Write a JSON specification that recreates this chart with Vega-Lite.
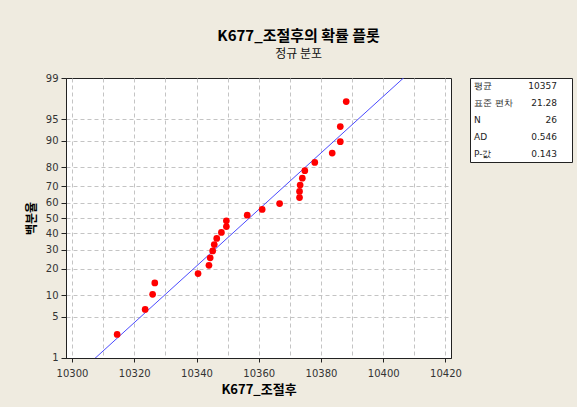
{
  "$schema": "https://vega.github.io/schema/vega-lite/v6.json",
  "background": "#EFEBE0",
  "padding": {"left": 24, "top": 28, "right": 4, "bottom": 10},
  "title": {
    "text": "K677_조절후의 확률 플롯",
    "subtitle": "정규 분포",
    "anchor": "middle",
    "font": "Noto Sans CJK KR",
    "fontSize": 15,
    "fontWeight": "bold",
    "color": "#000000",
    "subtitleFont": "Noto Sans CJK KR",
    "subtitleFontSize": 12,
    "subtitleColor": "#111111",
    "subtitlePadding": 5,
    "offset": 13
  },
  "spacing": 19,
  "bounds": "flush",
  "datasets": {
    "points": [
      {"v": 10314.5, "z": -1.934},
      {"v": 10323.5, "z": -1.519},
      {"v": 10325.9, "z": -1.268},
      {"v": 10326.6, "z": -1.079},
      {"v": 10340.5, "z": -0.923},
      {"v": 10344.0, "z": -0.786},
      {"v": 10344.4, "z": -0.662},
      {"v": 10345.2, "z": -0.548},
      {"v": 10345.7, "z": -0.441},
      {"v": 10346.5, "z": -0.339},
      {"v": 10348.0, "z": -0.240},
      {"v": 10349.6, "z": -0.143},
      {"v": 10349.6, "z": -0.0475},
      {"v": 10356.3, "z": 0.0475},
      {"v": 10361.1, "z": 0.143},
      {"v": 10366.7, "z": 0.240},
      {"v": 10373.1, "z": 0.339},
      {"v": 10373.1, "z": 0.441},
      {"v": 10373.3, "z": 0.548},
      {"v": 10374.0, "z": 0.662},
      {"v": 10374.8, "z": 0.786},
      {"v": 10378.0, "z": 0.923},
      {"v": 10383.6, "z": 1.079},
      {"v": 10386.2, "z": 1.268},
      {"v": 10386.2, "z": 1.519},
      {"v": 10388.1, "z": 1.934}
    ],
    "fit": [
      {"v": 10298, "z": -2.773},
      {"v": 10422, "z": 3.055}
    ],
    "stats": [
      {"row": 1, "label": "평균", "value": "10357"},
      {"row": 2, "label": "표준 편차", "value": "21.28"},
      {"row": 3, "label": "N", "value": "26"},
      {"row": 4, "label": "AD", "value": "0.546"},
      {"row": 5, "label": "P-값", "value": "0.143"}
    ]
  },
  "hconcat": [
    {
      "width": 385,
      "height": 280,
      "view": {"fill": "white", "stroke": "#222222", "strokeWidth": 1},
      "encoding": {
        "x": {
          "field": "v",
          "type": "quantitative",
          "scale": {"domain": [10298.07, 10421.77], "nice": false, "zero": false},
          "axis": {
            "title": "K677_조절후",
            "titleFont": "Noto Sans CJK KR",
            "titleFontSize": 13,
            "titleFontWeight": "bold",
            "titleColor": "#000000",
            "titlePadding": 5,
            "values": [10300, 10310, 10320, 10330, 10340, 10350, 10360, 10370, 10380, 10390, 10400, 10410, 10420],
            "format": "d",
            "labelExpr": "datum.value % 20 === 0 ? datum.label : ''",
            "labelFlush": false,
            "labelOverlap": false,
            "labelFont": "DejaVu Sans",
            "labelFontSize": 10,
            "labelColor": "#333333",
            "labelPadding": 6,
            "tickSize": 4,
            "tickColor": "#222222",
            "tickOpacity": {"condition": {"test": "datum.value % 20 !== 0", "value": 0}, "value": 1},
            "domainColor": "#222222",
            "grid": true,
            "gridColor": "#c4c4c4",
            "gridDash": [4, 3],
            "gridWidth": 1
          }
        },
        "y": {
          "field": "z",
          "type": "quantitative",
          "scale": {"domain": [-2.3264, 2.3264], "nice": false, "zero": false},
          "axis": {
            "title": "백분율",
            "titleFont": "Noto Sans CJK KR",
            "titleFontSize": 12,
            "titleFontWeight": "bold",
            "titleColor": "#000000",
            "titlePadding": 7,
            "values": [-2.3263, -1.6449, -1.2816, -0.8416, -0.5244, -0.2533, 0, 0.2533, 0.5244, 0.8416, 1.2816, 1.6449, 2.3263],
            "labelExpr": "format(cumulativeNormal(datum.value) * 100, '.0f')",
            "labelFont": "DejaVu Sans",
            "labelFontSize": 10,
            "labelColor": "#333333",
            "labelPadding": 3,
            "labelOverlap": false,
            "tickSize": 5,
            "tickColor": "#222222",
            "domainColor": "#222222",
            "grid": true,
            "gridColor": "#c4c4c4",
            "gridDash": [4, 3],
            "gridWidth": 1,
            "gridOpacity": {"condition": {"test": "abs(datum.value) > 2.3", "value": 0}, "value": 1}
          }
        }
      },
      "layer": [
        {
          "data": {"name": "fit"},
          "mark": {"type": "line", "color": "#4a4aff", "strokeWidth": 1, "clip": true}
        },
        {
          "data": {"name": "points"},
          "mark": {"type": "circle", "color": "#ff0000", "opacity": 1, "size": 45}
        }
      ]
    },
    {
      "width": 102,
      "height": 84,
      "view": {"fill": "white", "stroke": "#222222", "strokeWidth": 1},
      "data": {"name": "stats"},
      "encoding": {
        "y": {"field": "row", "type": "ordinal", "axis": null}
      },
      "layer": [
        {
          "mark": {"type": "text", "align": "left", "font": "DejaVu Sans", "fontSize": 9, "color": "#222222"},
          "encoding": {
            "x": {"datum": 0, "type": "quantitative", "scale": {"domain": [-0.048, 1.181], "nice": false, "zero": false}, "axis": null},
            "text": {"field": "label"}
          }
        },
        {
          "mark": {"type": "text", "align": "right", "font": "DejaVu Sans", "fontSize": 9, "color": "#222222"},
          "encoding": {
            "x": {"datum": 1, "type": "quantitative"},
            "text": {"field": "value"}
          }
        }
      ]
    }
  ]
}
